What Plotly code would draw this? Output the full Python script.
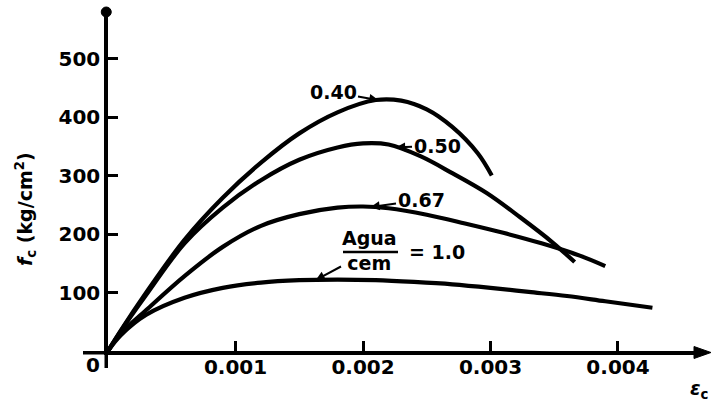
import numpy as np
import plotly.graph_objects as go

# ---- data (strain, stress kg/cm2) ----
x_040 = [0, 0.0001, 0.0003, 0.0006, 0.0009, 0.0012, 0.0015, 0.0018, 0.0021, 0.0023, 0.0025, 0.0027, 0.0029, 0.00301]
y_040 = [0, 35, 100, 190, 262, 322, 372, 408, 429, 428, 413, 383, 338, 300]

x_050 = [0, 0.0001, 0.0003, 0.0006, 0.0009, 0.0012, 0.0015, 0.0018, 0.0020, 0.0022, 0.00245, 0.0027, 0.00297, 0.00323, 0.00349, 0.00366]
y_050 = [0, 34, 96, 184, 245, 292, 327, 348, 355, 353, 333, 304, 270, 229, 185, 152]

x_067 = [0, 0.0001, 0.0003, 0.0006, 0.0009, 0.0012, 0.0015, 0.0018, 0.0020, 0.0022, 0.0025, 0.0028, 0.0031, 0.0034, 0.0037, 0.0039]
y_067 = [0, 30, 70, 128, 178, 214, 234, 245, 247, 244, 233, 218, 202, 184, 163, 145]

x_100 = [0, 0.0001, 0.0003, 0.0006, 0.0009, 0.0012, 0.0015, 0.0018, 0.0021, 0.0024, 0.0027, 0.0030, 0.0033, 0.0036, 0.0039, 0.00427]
y_100 = [0, 27, 62, 91, 108, 117, 121, 122, 121, 118, 114, 108, 101, 94, 85, 74]

x_ticks = [0.001, 0.002, 0.003, 0.004]
x_ticktext = ["0.001", "0.002", "0.003", "0.004"]
y_ticks = [100, 200, 300, 400, 500]
y_ticktext = ["100", "200", "300", "400", "500"]

X_MAX = 0.0046824
Y_MAX = 579.5

W, H = 712, 402
ML, MR, MT, MB = 108, 7, 12, 51
PW = W - ML - MR
PH = H - MT - MB


def px(xp):
    return (xp - ML) / PW


def py(yp):
    return (H - MB - yp) / PH


FONT = dict(family="DejaVu Sans", size=19, color="black", weight="bold")
TICKFONT = dict(family="DejaVu Sans", size=20, color="black", weight="bold")
LW = 3.5
CURVE_W = 4.2

fig = go.Figure()
for xs, ys in [(x_040, y_040), (x_050, y_050), (x_067, y_067), (x_100, y_100)]:
    fig.add_trace(go.Scatter(x=xs, y=ys, mode="lines",
                             line=dict(color="black", width=CURVE_W, shape="spline", smoothing=1.0),
                             showlegend=False, hoverinfo="skip"))

axis_common = dict(showline=True, linewidth=LW, linecolor="black", ticks="inside",
                   ticklen=10, tickwidth=2.5, tickcolor="black", showgrid=False,
                   zeroline=False, tickfont=TICKFONT, mirror=False)

fig.update_layout(
    width=W, height=H, autosize=False,
    margin=dict(l=ML, r=MR, t=MT, b=MB, pad=0),
    paper_bgcolor="white", plot_bgcolor="white",
    xaxis=dict(range=[0, X_MAX], tickvals=x_ticks, ticktext=x_ticktext,
               ticklabelstandoff=-5, **axis_common),
    yaxis=dict(range=[0, Y_MAX], tickvals=y_ticks, ticktext=y_ticktext, **axis_common),
)

half = LW / 2
shapes = [
    # x axis extension to the left of the origin
    dict(type="line", xref="paper", yref="paper", x0=px(83), x1=px(ML), y0=py(H - MB + half), y1=py(H - MB + half),
         line=dict(color="black", width=LW)),
    # y axis extension below the origin
    dict(type="line", xref="paper", yref="paper", x0=px(ML - half), x1=px(ML - half), y0=py(H - MB), y1=py(368),
         line=dict(color="black", width=LW)),
    # dot at the top of the y axis
    dict(type="circle", xref="paper", yref="paper", x0=px(ML - half - 5), x1=px(ML - half + 5),
         y0=py(MT + 5), y1=py(MT - 5), fillcolor="black", line=dict(color="black", width=1)),
    # arrowhead at the end of the x axis
    dict(type="path", xref="paper", yref="paper",
         path=f"M {px(694)} {py(346.5)} L {px(711)} {py(352.5)} L {px(694)} {py(358.5)} Z",
         fillcolor="black", line=dict(color="black", width=1)),
    # fraction bar Agua / cem
    dict(type="line", xref="paper", yref="paper", x0=px(343), x1=px(398), y0=py(252), y1=py(252),
         line=dict(color="black", width=2.5)),
]
fig.update_layout(shapes=shapes)


def ptext(text, xp, yp, font=FONT, **kw):
    return dict(text=text, xref="paper", yref="paper", x=px(xp), y=py(yp), showarrow=False,
                xanchor="center", yanchor="middle", font=font, **kw)


anns = [
    ptext("0", 93, 365, font=TICKFONT),
    ptext("<i>f</i><sub>c</sub> (kg/cm<sup>2</sup>)", 25, 209, textangle=-90),
    ptext("<i>ε</i><sub>c</sub>", 699, 389),
    ptext("= 1.0", 437, 252),
]


def label(text, xs, ys, tip_x, cx, cy, font=FONT):
    tip_y = float(np.interp(tip_x, xs, ys))
    tip_px = ML + tip_x / X_MAX * PW
    tip_py = MT + (1 - tip_y / Y_MAX) * PH
    return dict(text=text, x=tip_x, y=tip_y, xref="x", yref="y", ax=cx - tip_px, ay=cy - tip_py,
                showarrow=True, arrowhead=2, arrowsize=0.9, arrowwidth=2, arrowcolor="black", font=font)


anns.append(label("0.40", x_040, y_040, 0.00212, 333, 92))
anns.append(label("0.50", x_050, y_050, 0.00226, 437, 146))
anns.append(label("0.67", x_067, y_067, 0.00206, 421, 200))
anns.append(label("Agua<br>cem", x_100, y_100, 0.00163, 370, 251))
fig.update_layout(annotations=anns)

fig.write_html("out.html", config={"displayModeBar": False},
               post_script="document.body.style.margin='0px';")
